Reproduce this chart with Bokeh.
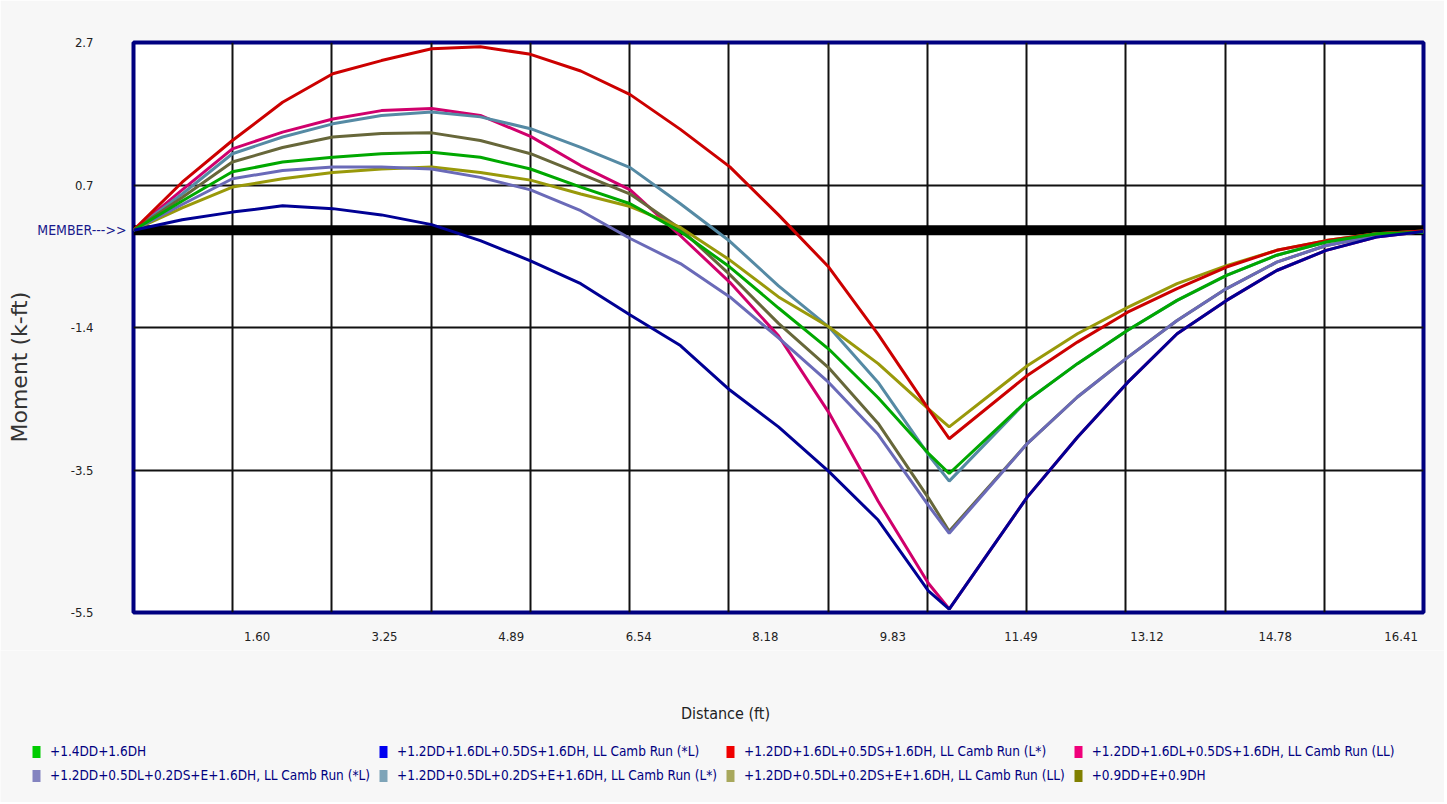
from bokeh.plotting import figure
from bokeh.models import (FixedTicker, Span, Legend, LegendItem, Range1d, LinearAxis, Title, Label)
from bokeh.embed import file_html
from bokeh.resources import INLINE

# ---------------- data ----------------
distance_ft = [0.00, 0.63, 1.28, 1.93, 2.58, 3.21, 3.86, 4.49, 5.14, 5.79, 6.43, 7.08, 7.72,
               8.35, 9.00, 9.64, 10.29, 10.56, 11.57, 12.22, 12.87, 13.51, 14.15, 14.80,
               15.44, 16.09, 16.70]

series_names = [
    "+1.4DD+1.6DH",
    "+1.2DD+1.6DL+0.5DS+1.6DH, LL Camb Run (*L)",
    "+1.2DD+1.6DL+0.5DS+1.6DH, LL Camb Run (L*)",
    "+1.2DD+1.6DL+0.5DS+1.6DH, LL Camb Run (LL)",
    "+1.2DD+0.5DL+0.2DS+E+1.6DH, LL Camb Run (*L)",
    "+1.2DD+0.5DL+0.2DS+E+1.6DH, LL Camb Run (L*)",
    "+1.2DD+0.5DL+0.2DS+E+1.6DH, LL Camb Run (LL)",
    "+0.9DD+E+0.9DH",
]

m_14dd_16dh = [0.00, 0.42, 0.84, 0.98, 1.05, 1.10, 1.12, 1.05, 0.88, 0.62, 0.38, -0.02, -0.53,
               -1.12, -1.71, -2.41, -3.21, -3.50, -2.45, -1.92, -1.44, -1.01, -0.65, -0.36,
               -0.17, -0.05, -0.03]
m_16dl_sL = [0.00, 0.15, 0.26, 0.35, 0.31, 0.22, 0.08, -0.15, -0.44, -0.77, -1.22, -1.66, -2.30,
             -2.83, -3.47, -4.17, -5.19, -5.45, -3.84, -2.98, -2.19, -1.49, -1.01, -0.58,
             -0.29, -0.10, -0.02]
m_16dl_Ls = [0.00, 0.69, 1.29, 1.84, 2.25, 2.44, 2.61, 2.64, 2.53, 2.29, 1.95, 1.45, 0.91,
             0.22, -0.53, -1.50, -2.57, -3.00, -2.09, -1.61, -1.18, -0.84, -0.53, -0.29,
             -0.15, -0.05, -0.01]
m_16dl_LL = [0.00, 0.58, 1.17, 1.41, 1.60, 1.72, 1.75, 1.65, 1.35, 0.93, 0.58, -0.08, -0.75,
             -1.52, -2.62, -3.90, -5.08, -5.45, -3.84, -2.98, -2.19, -1.49, -1.01, -0.58,
             -0.29, -0.10, -0.02]
m_05dl_sL = [0.00, 0.37, 0.74, 0.86, 0.91, 0.91, 0.88, 0.76, 0.58, 0.28, -0.12, -0.48, -0.96,
             -1.55, -2.19, -2.94, -3.96, -4.36, -3.07, -2.40, -1.83, -1.30, -0.84, -0.46,
             -0.22, -0.08, -0.02]
m_05dl_Ls = [0.00, 0.52, 1.10, 1.34, 1.53, 1.65, 1.70, 1.63, 1.46, 1.19, 0.90, 0.38, -0.16,
             -0.80, -1.39, -2.19, -3.23, -3.61, -2.45, -1.92, -1.44, -1.01, -0.65, -0.36,
             -0.17, -0.05, -0.03]
m_05dl_LL = [0.00, 0.32, 0.62, 0.74, 0.83, 0.88, 0.91, 0.83, 0.72, 0.52, 0.34, 0.04, -0.43,
             -0.96, -1.39, -1.92, -2.57, -2.83, -1.95, -1.49, -1.11, -0.77, -0.51, -0.29,
             -0.15, -0.05, -0.01]
m_09dd_e = [0.00, 0.47, 0.98, 1.19, 1.34, 1.39, 1.40, 1.29, 1.10, 0.81, 0.52, 0.02, -0.64,
            -1.34, -1.98, -2.78, -3.85, -4.33, -3.07, -2.40, -1.83, -1.30, -0.84, -0.46,
            -0.22, -0.08, -0.02]

series_values = [m_14dd_16dh, m_16dl_sL, m_16dl_Ls, m_16dl_LL,
                 m_05dl_sL, m_05dl_Ls, m_05dl_LL, m_09dd_e]

line_colors = ["#00A800", "#000094", "#CC0000", "#D0006C",
               "#6A6AB8", "#558AA4", "#99990A", "#67673A"]
swatch_colors = ["#00CC00", "#0000F0", "#F00000", "#F0007A",
                 "#8484C0", "#7EA4B8", "#A8A85C", "#808000"]

x_tick_values = [1.60, 3.25, 4.89, 6.54, 8.18, 9.83, 11.49, 13.12, 14.78, 16.41]
y_tick_values = [2.7, 0.65, -1.4, -3.45, -5.5]
y_tick_labels = ["2.7", "0.7", "-1.4", "-3.5", "-5.5"]
member_level = [0.0]
member_label = "MEMBER--->>"
x_title = "Distance (ft)"
y_title = "Moment (k-ft)"

x_min, x_max = 0.0, 16.70
y_min, y_max = -5.5, 2.7
n_grid_cols = 13

NARROW = "DejaVu Sans Condensed"
BG = "#F7F7F7"
W = 1444
MAIN_H = 650
FOOT_H = 152

# ---------------- main chart ----------------
p = figure(width=W, height=MAIN_H, output_backend="svg", toolbar_location=None,
           x_range=Range1d(x_min, x_max), y_range=Range1d(y_min, y_max),
           min_border_left=133, min_border_right=21, min_border_top=42, min_border_bottom=38)

p.border_fill_color = BG
p.background_fill_color = "#FFFFFF"
p.outline_line_color = "#000080"
p.outline_line_width = 4

p.xaxis.ticker = FixedTicker(ticks=x_tick_values)
p.xaxis.major_label_overrides = {v: f"{v:.2f}" for v in x_tick_values}
p.yaxis.ticker = FixedTicker(ticks=y_tick_values)
p.yaxis.major_label_overrides = dict(zip(y_tick_values, y_tick_labels))


def style_axis(ax):
    ax.axis_line_color = None
    ax.major_tick_line_color = None
    ax.minor_tick_line_color = None
    ax.major_tick_out = 0
    ax.major_tick_in = 0
    ax.major_label_text_font = NARROW
    ax.major_label_text_font_size = "13px"
    ax.major_label_text_color = "#222222"


style_axis(p.xaxis[0])
style_axis(p.yaxis[0])
p.xaxis.major_label_standoff = 19
p.yaxis.major_label_standoff = 40

# outer left axis carrying the MEMBER marker at the member line
member_axis = LinearAxis(ticker=FixedTicker(ticks=member_level),
                         major_label_overrides={member_level[0]: member_label})
style_axis(member_axis)
member_axis.major_label_text_color = "#1A1A8C"
member_axis.major_label_text_font_size = "14px"
member_axis.major_label_standoff = -59
p.add_layout(member_axis, "left")

p.add_layout(Title(text=y_title, align="left", offset=170,
                   text_font="DejaVu Sans", text_font_size="22px",
                   text_font_style="normal", text_color="#333333", standoff=5), "left")

grid_positions = [x_min + (x_max - x_min) * k / n_grid_cols for k in range(1, n_grid_cols)]
p.xgrid.ticker = FixedTicker(ticks=grid_positions)
p.xgrid.grid_line_color = "#111111"
p.xgrid.grid_line_width = 2
p.ygrid.grid_line_color = "#111111"
p.ygrid.grid_line_width = 2

p.add_layout(Span(location=member_level[0], dimension="width", line_color="black",
                  line_width=10, level="underlay"))

draw_order = [3, 5, 7, 6, 4, 2, 0, 1]
for i in draw_order:
    p.line(distance_ft, series_values[i], line_color=line_colors[i], line_width=3)

# ---------------- footer: x title + legend (separate root, frame = whole canvas) ----------------
f = figure(width=W, height=FOOT_H, output_backend="svg", toolbar_location=None,
           x_range=Range1d(0, W), y_range=Range1d(0, FOOT_H),
           x_axis_location=None, y_axis_location=None, min_border=0)
f.border_fill_color = BG
f.background_fill_color = BG
f.outline_line_color = None
f.xgrid.visible = False
f.ygrid.visible = False

f.add_layout(Label(x=725, y=89, text=x_title, text_align="center", text_baseline="middle",
                   text_font=NARROW, text_font_size="16px", text_color="#222222"))

nan = float("nan")
items = []
for name, col in zip(series_names, swatch_colors):
    # one undrawn (NaN) quad per series: it only supplies the square legend swatch
    r = f.quad(left=[nan], right=[nan], top=[nan], bottom=[nan], fill_color=col, line_color=None)
    items.append(LegendItem(label=name, renderers=[r], index=0))

legend = Legend(items=items, orientation="horizontal", ncols=4,
                location=(31, 19),
                glyph_width=10, glyph_height=15, label_standoff=9,
                label_height=15, spacing=8, padding=0, margin=0,
                border_line_alpha=0, background_fill_alpha=0,
                label_text_font=NARROW, label_text_font_size="13.5px",
                label_text_color="#000080")
f.add_layout(legend, "center")

open("out.html", "w").write(file_html([p, f], INLINE))
